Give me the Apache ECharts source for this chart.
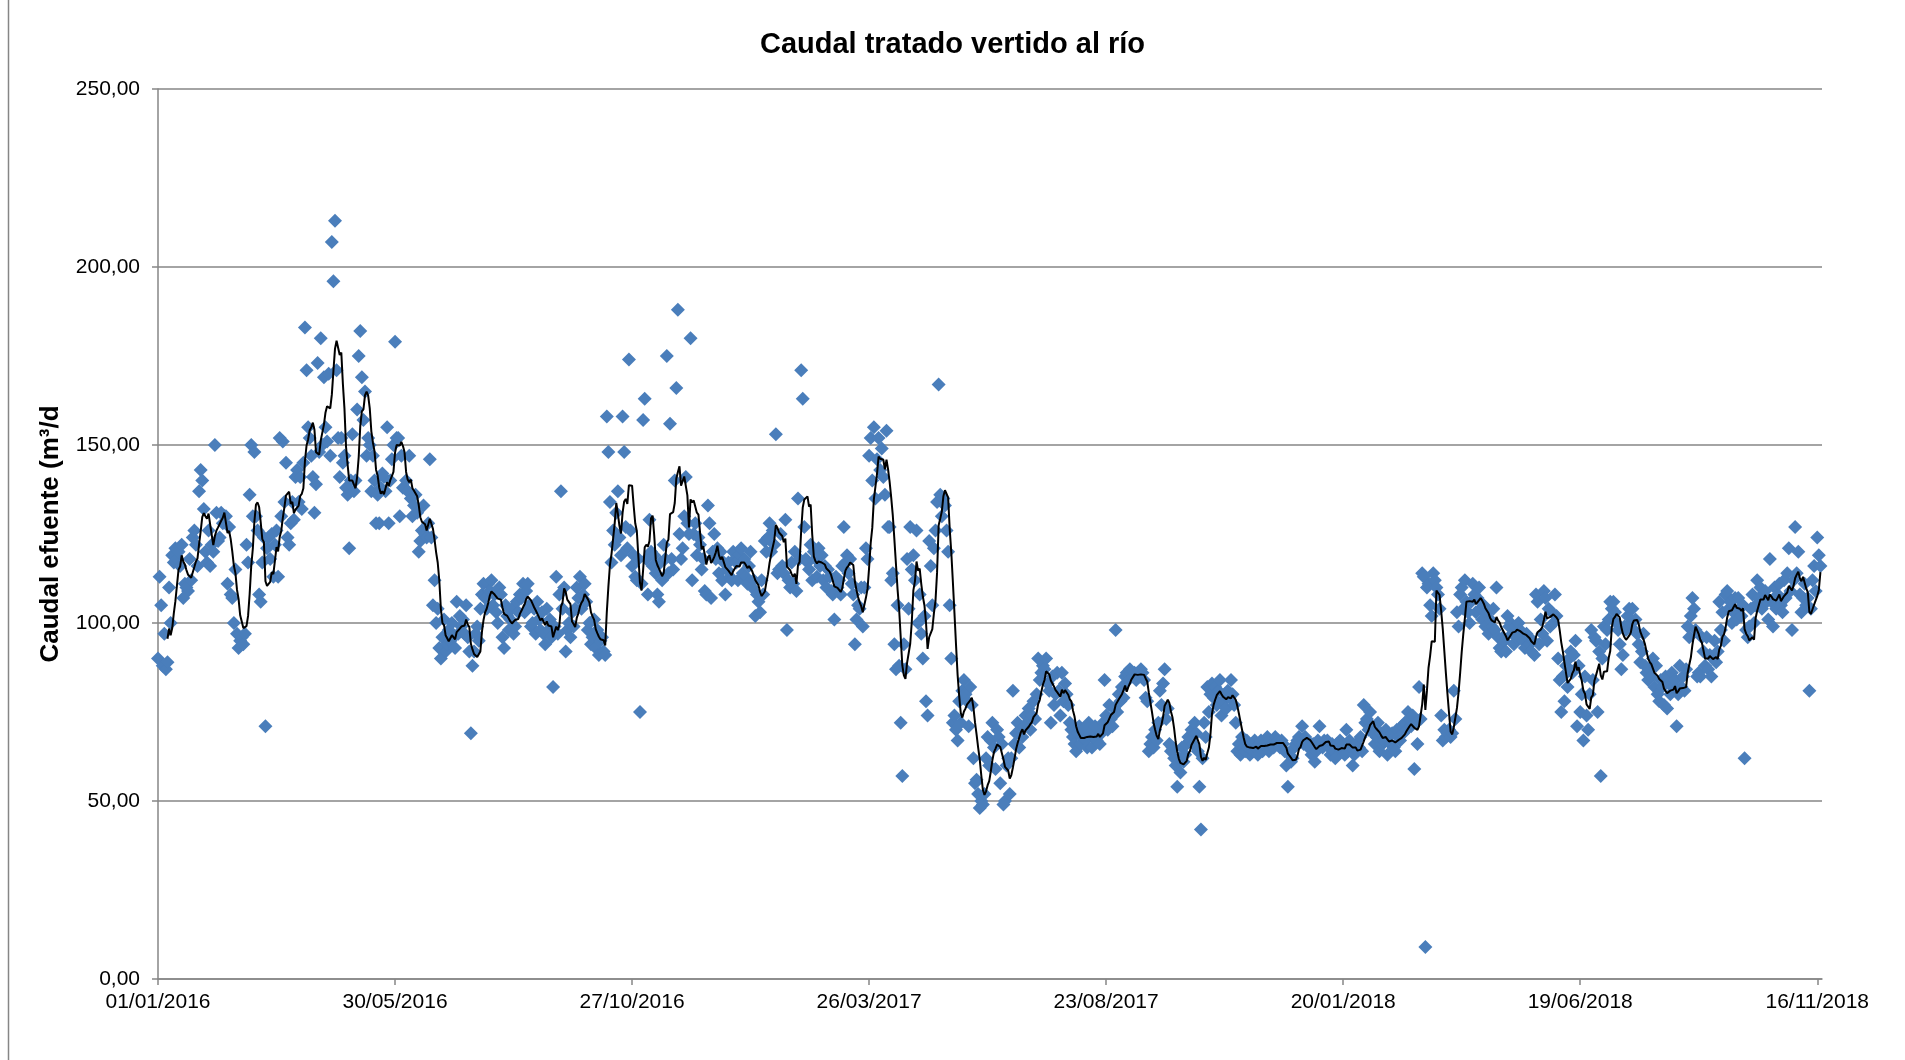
<!DOCTYPE html>
<html>
<head>
<meta charset="utf-8">
<script src="https://cdn.jsdelivr.net/npm/echarts@6/dist/echarts.min.js"></script>
<style>
html,body{margin:0;padding:0;background:#ffffff;}
#chart{width:1905px;height:1060px;}
</style>
</head>
<body>
<div id="chart"></div>
<script>
// ---- Datos: caudal diario (m3/d), un valor por día desde el 01/01/2016 ----
const caudal2016 = [
90,113,105,88,97,87,89,110,100,119,
117,121,118,120,116,122,107,111,110,109,
118,112,124,126,122,116,137,143,140,132,
120,117,126,116,122,120,150,131,123,124,
131,128,130,130,111,127,108,107,100,115,
97,93,95,96,94,97,122,117,136,150,
130,148,130,126,108,106,117,124,71,121,
124,118,125,113,122,126,113,152,130,151,
134,145,124,122,128,134,129,141,143,134,
141,132,145,183,171,155,152,147,141,131,
139,173,148,180,150,169,155,151,170,147,
207,196,213,171,152,141,152,145,147,138,
136,121,140,153,137,140,160,175,182,169,
157,165,147,152,150,137,147,140,128,136,
128,138,142,141,137,155,128,140,146,150,
179,152,152,130,147,138,138,140,137,147,
135,130,133,136,131,120,123,126,133,125,
124,128,146,124,105,112,100,104,93,90,
96,101,92,94,98,95,100,96,93,106,
97,102,99,101,97,105,96,92,69,88,
92,97,99,95,104,108,111,107,104,111,
109,112,105,108,103,100,110,108,96,93,
105,102,98,101,104,97,99,106,103,108,
107,111,103,109,111,105,99,100,104,97,
106,101,98,103,97,94,104,98,101,96,
82,99,113,97,108,137,104,110,92,98,
100,96,103,99,104,110,107,113,104,108,
111,106,98,100,94,96,101,93,98,91,
95,96,92,91,158,148,134,117,126,122,
131,137,124,119,158,148,127,121,174,126,
116,119,113,112,118,75,111,157,163,118,
108,129,120,116,119,114,108,106,117,112,
122,118,175,114,156,118,115,140,166,188,
125,118,121,130,141,128,125,180,112,125,
128,119,124,122,115,118,109,108,133,128,
107,120,125,118,121,114,120,112,117,108,
115,117,113,112,120,118
];
const caudal2017 = [
117,112,119,121,
114,118,113,111,116,120,110,112,102,108,
106,103,112,108,123,120,124,128,120,126,
122,153,114,115,125,116,114,129,98,112,
110,117,111,120,109,135,118,171,163,127,
118,117,115,122,112,120,118,113,121,116,
119,112,116,110,115,113,109,108,101,113,
110,112,108,116,127,117,119,114,118,111,
108,94,101,105,104,110,99,110,121,118,
147,152,140,155,135,146,152,143,149,141,
136,154,127,127,112,114,94,87,105,88,
72,57,94,87,118,104,127,115,119,112,
126,100,108,97,90,102,78,74,123,116,
105,121,126,134,167,136,130,135,133,126,
120,105,90,72,74,70,67,78,72,81,
84,80,78,71,82,77,62,55,56,52,
48,50,49,52,62,68,60,67,72,65,
59,70,68,55,66,49,50,60,62,52,
62,81,66,69,72,65,70,68,71,74,
72,76,70,74,78,73,80,90,84,86,
88,87,90,83,81,72,85,77,80,86,
81,74,86,78,83,80,77,72,70,68,
66,64,69,71,66,68,70,67,65,72,
69,65,68,71,67,70,66,69,72,84,
74,70,77,73,71,76,98,75,80,78,
82,79,85,86,84,87,86,85,86,84,
86,85,87,86,84,79,78,64,66,68,
65,70,67,72,81,77,83,87,73,76,
66,64,65,62,60,54,62,58,65,61,
63,66,68,67,70,66,72,69,64,54,
42,62,72,68,82,75,80,83,79,82,
77,81,84,74,78,80,76,81,79,84,
80,77,72,64,66,63,68,65,64,67,
65,63,66,64,67,65,63,66,67,64,
66,65,68,64,67,66,65,68,66,67,
65,67,66,64,60,54,63,61,62,65,
66,67,68,67,71,66,68,67,65,66,
63
];
const caudal2018 = [
66,61,64,67,71,66,65,67,66,
67,65,63,66,64,62,66,65,67,64,
66,63,70,64,67,65,60,63,66,64,
65,68,64,77,72,73,70,75,71,69,
66,68,72,64,69,66,67,70,63,68,
66,69,65,64,70,68,67,71,69,72,
70,75,73,71,74,59,72,66,82,73,
114,113,9,110,111,105,102,114,112,110,
108,104,74,67,70,68,69,70,68,69,
81,73,103,99,108,110,104,112,106,103,
100,106,111,108,103,107,110,104,101,105,
99,103,97,101,99,104,98,110,96,93,
92,96,95,92,102,99,100,97,94,99,
96,100,98,97,95,93,97,96,94,92,
95,91,108,106,94,101,97,109,107,95,
104,99,103,100,108,102,90,84,75,85,
78,88,82,90,92,86,91,95,71,88,
75,80,67,85,74,70,80,98,84,96,
95,75,92,57,90,99,94,98,101,106,
104,106,103,100,98,94,87,91,99,98,
102,104,100,104,98,101,97,94,89,92,
97,88,86,84,87,85,90,82,88,80,
78,84,82,77,85,76,83,80,86,82,
84,71,80,88,82,85,81,87,99,96,
102,107,104,98,85,86,85,96,92,88,
96,87,91,85,90,95,89,92,106,98,
103,95,108,109,104,106,100,103,107,101,
107,104,102,105,62,98,96,99,104,108,
100,105,112,107,110,104,108,109,106,101,
118,106,99,110,104,108,111,105,103,112,
107,114,121,109,98,112,127,114,120,108,
103,107,111,105,107,81,104,112,116,109,
124,119,116
];
// Eje X: días desde el 01/01/2016 y sus etiquetas
const diasEtiquetas = [0,150,300,450,600,750,900,1050];
const etiquetasX = ['01/01/2016','30/05/2016','27/10/2016','26/03/2017','23/08/2017','20/01/2018','19/06/2018','16/11/2018'];
const etiquetasY = [0,50,100,150,200,250];
const periodoMedia = 7; // línea de tendencia: media móvil de 7 periodos (como en Excel)

const caudal = caudal2016.concat(caudal2017, caudal2018);
const puntos = caudal.map((v, i) => [i, v]);
const tendencia = [];
for (let i = periodoMedia - 1; i < caudal.length; i++) {
  let s = 0;
  for (let k = i - periodoMedia + 1; k <= i; k++) s += caudal[k];
  tendencia.push([i, s / periodoMedia]);
}

const fuente = "'Liberation Sans', Arial, sans-serif";
const chart = echarts.init(document.getElementById('chart'), null, {renderer: 'canvas'});
chart.setOption({
  animation: false,
  backgroundColor: '#ffffff',
  graphic: [{
    type: 'line',
    shape: {x1: 8.5, y1: 0, x2: 8.5, y2: 1060},
    style: {stroke: '#868686', lineWidth: 1.5},
    silent: true
  }],
  title: {
    text: 'Caudal tratado vertido al río',
    left: 'center',
    top: 30,
    padding: 0,
    textStyle: {fontFamily: fuente, fontSize: 29, fontWeight: 'bold', color: '#000000'}
  },
  grid: {left: 158, right: 83, top: 89, bottom: 81, containLabel: false},
  xAxis: {
    type: 'value',
    min: 0,
    max: 1053,
    interval: 150,
    splitLine: {show: false},
    axisLine: {show: true, onZero: false, lineStyle: {color: '#868686', width: 1.5}},
    axisTick: {show: true, customValues: diasEtiquetas, length: 6, lineStyle: {color: '#868686', width: 1.5}},
    axisLabel: {
      customValues: diasEtiquetas,
      formatter: function (v) { const i = diasEtiquetas.indexOf(Math.round(v)); return i >= 0 ? etiquetasX[i] : ''; },
      fontFamily: fuente, fontSize: 21, color: '#000000', margin: 13
    }
  },
  yAxis: {
    type: 'value',
    min: etiquetasY[0],
    max: etiquetasY[etiquetasY.length - 1],
    interval: 50,
    name: 'Caudal efuente (m³/d',
    nameLocation: 'middle',
    nameRotate: 90,
    nameGap: 94,
    nameTextStyle: {fontFamily: fuente, fontSize: 26, fontWeight: 'bold', color: '#000000'},
    splitLine: {show: true, lineStyle: {color: '#868686', width: 1.5}},
    axisLine: {show: true, lineStyle: {color: '#868686', width: 1.5}},
    axisTick: {show: true, length: 6, lineStyle: {color: '#868686', width: 1.5}},
    axisLabel: {
      formatter: function (v) { return v.toFixed(2).replace('.', ','); },
      fontFamily: fuente, fontSize: 21, color: '#000000', margin: 18
    }
  },
  series: [
    {
      name: 'Caudal diario',
      type: 'scatter',
      data: puntos,
      symbol: 'diamond',
      symbolSize: 14,
      itemStyle: {color: '#4a7ebb', opacity: 1},
      z: 2
    },
    {
      name: 'Media móvil 7 días',
      type: 'line',
      data: tendencia,
      showSymbol: false,
      symbol: 'none',
      smooth: false,
      lineStyle: {color: '#000000', width: 2},
      z: 3
    }
  ]
});
</script>
</body>
</html>
